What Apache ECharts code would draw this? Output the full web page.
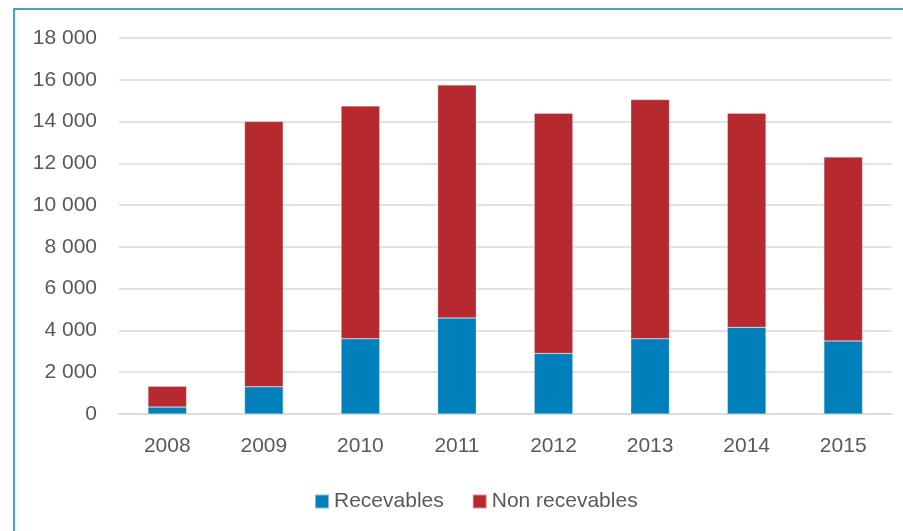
<!DOCTYPE html>
<html>
<head>
<meta charset="utf-8">
<script src="https://cdn.jsdelivr.net/npm/echarts@6/dist/echarts.min.js"></script>
<style>
html,body{margin:0;padding:0;background:#fff;}
#chart{width:903px;height:531px;}
</style>
</head>
<body>
<div id="chart"></div>
<script>
var categories = ['2008','2009','2010','2011','2012','2013','2014','2015'];
var recevables = [330, 1300, 3600, 4600, 2900, 3600, 4150, 3500];
var nonRecevables = [1000, 12700, 11150, 11150, 11500, 11450, 10250, 8800];
var seriesNames = ['Recevables', 'Non recevables'];

var chart = echarts.init(document.getElementById('chart'));
var font = '"Liberation Sans", Arial, sans-serif';
chart.setOption({
  animation: false,
  backgroundColor: '#fff',
  textStyle: {fontFamily: font},
  graphic: [{
    type: 'rect',
    shape: {x: 14, y: 9, width: 1000, height: 1000},
    style: {fill: 'none', stroke: '#0a82c4', lineWidth: 1.5},
    silent: true
  }],
  grid: {left: 119, right: 11.5, top: 38, bottom: 117, containLabel: false},
  legend: {
    left: 309, top: 486,
    itemWidth: 14, itemHeight: 14, itemGap: 28,
    icon: 'rect',
    textStyle: {color: '#595959', fontSize: 21, fontFamily: font},
    data: seriesNames
  },
  xAxis: {
    type: 'category',
    data: categories,
    axisLine: {lineStyle: {color: '#d9d9d9', width: 1.5}},
    axisTick: {show: false},
    axisLabel: {color: '#595959', fontSize: 21, margin: 22, fontFamily: font}
  },
  yAxis: {
    type: 'value',
    min: 0, max: 18000, interval: 2000,
    axisLine: {show: false},
    axisTick: {show: false},
    splitLine: {lineStyle: {color: '#d9d9d9', width: 1.5}},
    axisLabel: {
      color: '#595959', fontSize: 21, margin: 22, fontFamily: font,
      formatter: function (v) { return String(v).replace(/\B(?=(\d{3})+(?!\d))/g, ' '); }
    }
  },
  series: [{
    name: seriesNames[0], type: 'bar', stack: 'total', barWidth: '40%',
    data: recevables,
    itemStyle: {color: '#0080bb', borderColor: 'rgba(255,255,255,0.5)', borderWidth: 0.5}
  }, {
    name: seriesNames[1], type: 'bar', stack: 'total', barWidth: '40%',
    data: nonRecevables,
    itemStyle: {color: '#b5292f', borderColor: 'rgba(255,255,255,0.5)', borderWidth: 0.5}
  }]
});
</script>
</body>
</html>
